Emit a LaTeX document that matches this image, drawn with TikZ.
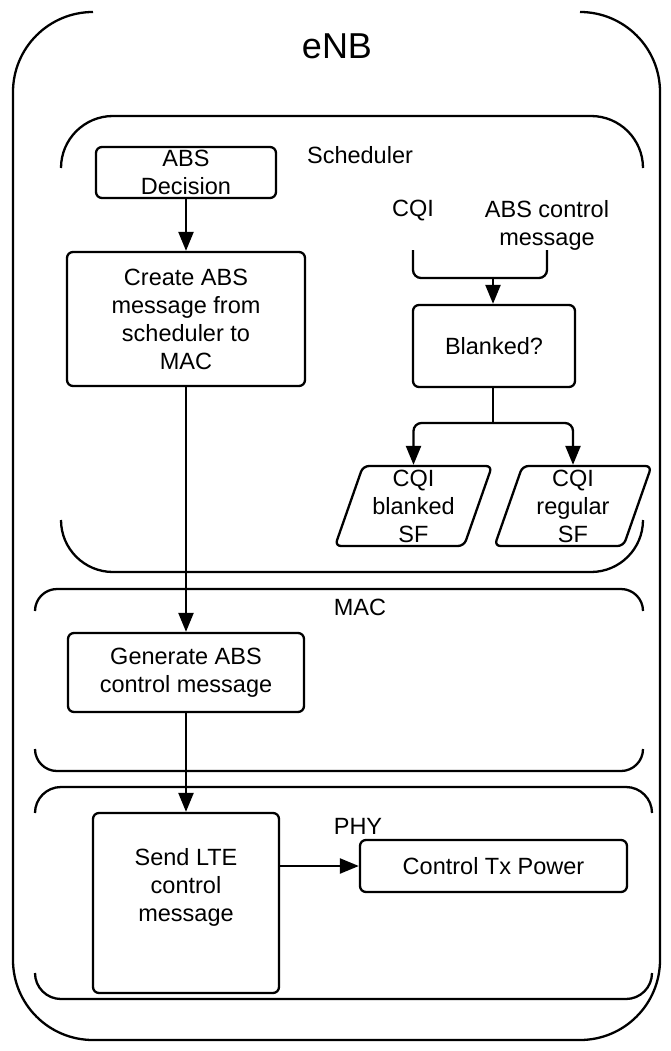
\documentclass[tikz,border=0pt]{standalone}
\usepackage{fontspec}
\setmainfont{Liberation Sans}
\usetikzlibrary{arrows.meta,calc}
\begin{document}
\begin{tikzpicture}[x=1pt,y=-1pt,line width=2.3pt,
  txt/.style={align=center,font=\fontsize{23.5}{28}\selectfont,inner sep=0pt},
  box/.style={draw,rounded corners=6pt,txt},
  arr/.style={-{Triangle[length=19pt,width=15pt]}}]
\useasboundingbox (0,0) rectangle (670,1051);
% eNB frame
\draw[rounded corners=80pt] (93,12) -- (13,12) -- (13,1040) -- (660,1040) -- (660,12) -- (580,12);
\node[font=\fontsize{36}{40}\selectfont] (enb) at (337,46) {eNB};
% Scheduler frame
\draw[rounded corners=52pt] (61,168) -- (61,116) -- (643,116) -- (643,168);
\draw[rounded corners=52pt] (61,520) -- (61,572) -- (643,572) -- (643,520);
\node[txt] (sched) at (360,155) {Scheduler};
% MAC frame
\draw[rounded corners=22pt] (35,611) -- (35,589) -- (643,589) -- (643,611);
\draw[rounded corners=22pt] (35,749) -- (35,771) -- (643,771) -- (643,749);
\node[txt] (mac) at (360,607) {MAC};
% PHY frame
\draw[rounded corners=26pt] (35,813) -- (35,787) -- (652,787) -- (652,813);
\draw[rounded corners=26pt] (35,973) -- (35,999) -- (652,999) -- (652,973);
\node[txt] (phy) at (358,826) {PHY};
% left column
\node[box,minimum width=180pt,minimum height=51pt] (dec) at (186,172.5) {ABS\\Decision};
\node[box,minimum width=238pt,minimum height=134pt] (create) at (186,319) {Create ABS\\message from\\scheduler to\\MAC};
\node[box,minimum width=236pt,minimum height=79pt] (gen) at (186,672.5) {Generate ABS\\control message};
\node[draw,rounded corners=6pt,minimum width=186pt,minimum height=180pt] (send) at (186,903) {};
\node[txt] (sendtxt) at (186,887) {Send LTE\\control\\message};
\node[box,minimum width=267pt,minimum height=52pt] (ctrl) at (493.5,866) {Control Tx Power};
\draw[arr] (dec) -- (create);
\draw[arr] (create) -- (gen);
\draw[arr] (gen) -- (send);
\draw[arr] (send.east |- ctrl) -- (ctrl);
% right column
\node[txt] (cqi) at (413,211) {CQI};
\node[txt] (absmsg) at (547,225) {ABS control\\message};
\coordinate (cqiA) at (413,250);
\coordinate (absA) at (547,250);
\coordinate (join) at (493,278);
\node[box,minimum width=162pt,minimum height=82pt] (blank) at (494,346) {Blanked?};
\draw[rounded corners=8pt] (cqiA) |- (join);
\draw[rounded corners=8pt] (absA) |- (join);
\draw[arr] (join) -- (join |- blank.north);
\coordinate (split) at (493,423);
\node[txt,minimum width=129pt,minimum height=80pt] (p1) at (413.5,506) {CQI\\blanked\\SF};
\node[txt,minimum width=129pt,minimum height=80pt] (p2) at (573,506) {CQI\\regular\\SF};
\draw[rounded corners=6pt] ($(p1.center)+(-50.5,-40)$) -- ($(p1.center)+(78.5,-40)$) -- ($(p1.center)+(50.5,40)$) -- ($(p1.center)+(-78.5,40)$) -- cycle;
\draw[rounded corners=6pt] ($(p2.center)+(-50.5,-40)$) -- ($(p2.center)+(78.5,-40)$) -- ($(p2.center)+(50.5,40)$) -- ($(p2.center)+(-78.5,40)$) -- cycle;
\draw (join |- blank.south) -- (split);
\draw[arr,rounded corners=8pt] (split) -| (p1.north);
\draw[arr,rounded corners=8pt] (split) -| (p2.north);
\end{tikzpicture}
\end{document}
